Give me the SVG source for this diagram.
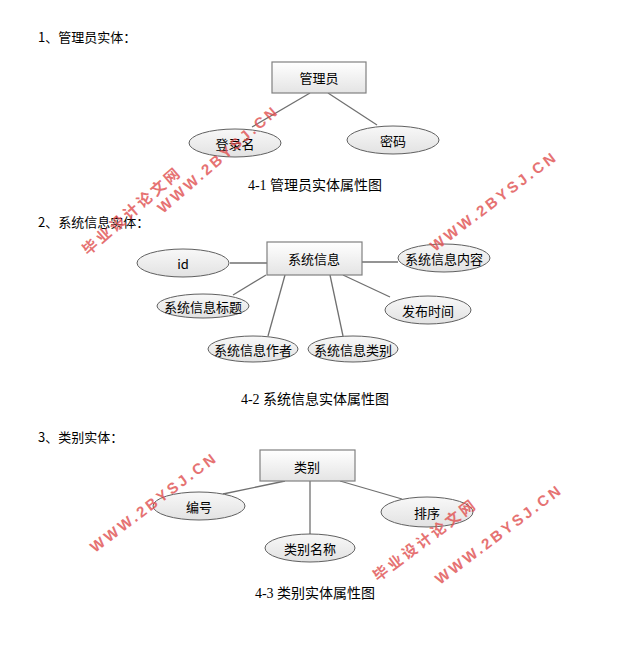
<svg xmlns="http://www.w3.org/2000/svg" width="638" height="652" viewBox="0 0 638 652">
<defs>
<linearGradient id="gb" x1="0" y1="0" x2="0" y2="1"><stop offset="0" stop-color="#ffffff"/><stop offset="1" stop-color="#e4e4e4"/></linearGradient>
<linearGradient id="ge" x1="0" y1="0" x2="0" y2="1"><stop offset="0" stop-color="#f8f8f8"/><stop offset="1" stop-color="#e2e2e2"/></linearGradient>
</defs>
<style>
text{font-family:"Noto Sans CJK SC","Liberation Sans",sans-serif;font-size:13px;fill:#000}
.t{text-anchor:middle;dominant-baseline:central}
.cap{font-family:"Liberation Serif","Noto Sans CJK SC",serif;font-size:14px;text-anchor:middle}
.box{fill:url(#gb);stroke:#808080;stroke-width:1.2}
ellipse{fill:url(#ge);stroke:#606060;stroke-width:1}
line{stroke:#707070;stroke-width:1.3}
.wm{fill:#e05050;font-family:"Liberation Sans","Noto Sans CJK SC",sans-serif;font-weight:bold;font-size:15px;letter-spacing:3px;opacity:0.8}
</style>
<rect width="638" height="652" fill="#fff"/>
<text x="38" y="42">1、管理员实体：</text>
<text x="38" y="227">2、系统信息实体：</text>
<text x="38" y="442">3、类别实体：</text>
<g id="connectors">
<line x1="310" y1="93" x2="252" y2="127"/>
<line x1="328" y1="93" x2="377" y2="125"/>
<line x1="230" y1="263" x2="267" y2="263"/>
<line x1="362" y1="262" x2="398" y2="262"/>
<line x1="266" y1="275" x2="233" y2="295"/>
<line x1="285" y1="275" x2="268" y2="336"/>
<line x1="330" y1="275" x2="343" y2="336"/>
<line x1="343" y1="275" x2="390" y2="297"/>
<line x1="285" y1="481" x2="223" y2="494"/>
<line x1="310" y1="481" x2="310" y2="534"/>
<line x1="340" y1="481" x2="402" y2="499"/>
</g>
<g id="n-admin"><rect class="box" x="272" y="62" width="94" height="31"/><text class="t" x="319" y="77">管理员</text></g>
<g id="n-login"><ellipse cx="235" cy="143" rx="46" ry="14"/><text class="t" x="235" y="143">登录名</text></g>
<g id="n-pwd"><ellipse cx="393" cy="140" rx="46" ry="14"/><text class="t" x="393" y="140">密码</text></g>
<text class="cap" x="315" y="190">4-1 管理员实体属性图</text>
<g id="n-sys"><rect class="box" x="267" y="242" width="95" height="33"/><text class="t" x="314" y="258">系统信息</text></g>
<g id="n-id"><ellipse cx="183" cy="263" rx="46" ry="14"/><text class="t" x="183" y="263">id</text></g>
<g id="n-content"><ellipse cx="444" cy="258" rx="46" ry="14"/><text class="t" x="444" y="258">系统信息内容</text></g>
<g id="n-title"><ellipse cx="203" cy="306" rx="46" ry="12"/><text class="t" x="203" y="306">系统信息标题</text></g>
<g id="n-time"><ellipse cx="428" cy="310" rx="43" ry="14"/><text class="t" x="428" y="310">发布时间</text></g>
<g id="n-author"><ellipse cx="253" cy="349" rx="45" ry="13"/><text class="t" x="253" y="349">系统信息作者</text></g>
<g id="n-type"><ellipse cx="353" cy="349" rx="45" ry="13"/><text class="t" x="353" y="349">系统信息类别</text></g>
<text class="cap" x="315" y="404">4-2 系统信息实体属性图</text>
<g id="n-cat"><rect class="box" x="260" y="450" width="95" height="31"/><text class="t" x="307" y="466">类别</text></g>
<g id="n-no"><ellipse cx="199" cy="506" rx="46" ry="14"/><text class="t" x="199" y="506">编号</text></g>
<g id="n-sort"><ellipse cx="427" cy="512" rx="46" ry="15"/><text class="t" x="427" y="512">排序</text></g>
<g id="n-name"><ellipse cx="310" cy="548" rx="45" ry="14"/><text class="t" x="310" y="548">类别名称</text></g>
<text class="cap" x="315" y="598">4-3 类别实体属性图</text>
<g id="watermarks">
<text class="wm" transform="translate(163,214) rotate(-41)">WWW.2BYSJ.CN</text>
<text class="wm" transform="translate(88,256) rotate(-41)">毕业设计论文网</text>
<text class="wm" transform="translate(435,252) rotate(-37)">WWW.2BYSJ.CN</text>
<text class="wm" transform="translate(95,553) rotate(-37)">WWW.2BYSJ.CN</text>
<text class="wm" transform="translate(378,582) rotate(-37)">毕业设计论文网</text>
<text class="wm" transform="translate(440,585) rotate(-37)">WWW.2BYSJ.CN</text>
</g>
</svg>
